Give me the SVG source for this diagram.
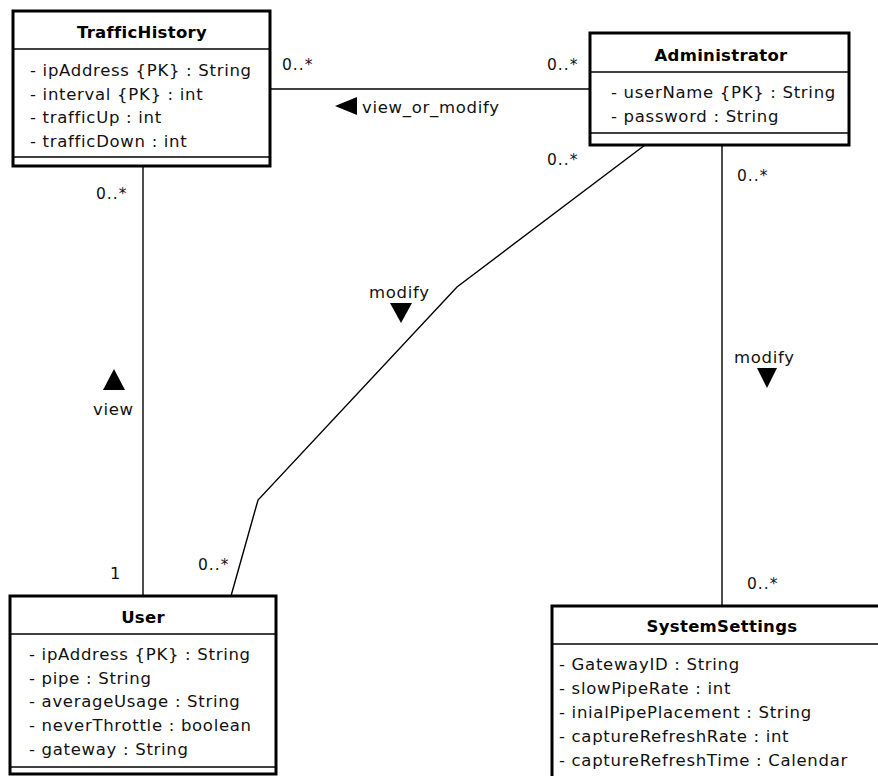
<svg xmlns="http://www.w3.org/2000/svg" width="878" height="776" viewBox="0 0 878 776">
<style>
.box{fill:#fff;stroke:#000;stroke-width:3}
.sep{stroke:#000;stroke-width:1.5}
.title{font-family:"DejaVu Sans",sans-serif;font-weight:bold;font-size:16.5px;letter-spacing:0.3px;text-anchor:middle;fill:#000}
.attr{font-family:"DejaVu Sans",sans-serif;font-size:16.5px;letter-spacing:0.7px;fill:#111}
.lbl{font-family:"DejaVu Sans",sans-serif;font-size:15.5px;letter-spacing:1px;fill:#111}
.big{font-size:16.5px;letter-spacing:0.7px}
.conn{fill:none;stroke:#000;stroke-width:1.4}
.tri{fill:#000}
</style>
<rect width="878" height="776" fill="#fff"/>
<g id="connectors">
<line class="conn" x1="270" y1="89" x2="590" y2="89"/>
<line class="conn" x1="143" y1="166" x2="143" y2="596"/>
<polyline class="conn" points="645,145 457,287 258,500 231,596"/>
<line class="conn" x1="722" y1="145" x2="722" y2="606"/>
<text class="lbl" x="282" y="70">0..*</text>
<text class="lbl" x="547" y="70">0..*</text>
<polygon class="tri" points="335,106 357,97 357,115"/>
<text class="lbl big" x="362" y="113">view_or_modify</text>
<text class="lbl" x="547" y="165">0..*</text>
<text class="lbl big" x="369" y="298">modify</text>
<polygon class="tri" points="390,303 412,303 401,323"/>
<text class="lbl" x="96" y="199">0..*</text>
<polygon class="tri" points="114,369 103,390 125,390"/>
<text class="lbl big" x="93" y="415">view</text>
<text class="lbl big" x="110" y="579">1</text>
<text class="lbl" x="198" y="570">0..*</text>
<text class="lbl" x="737" y="181">0..*</text>
<text class="lbl big" x="734" y="363">modify</text>
<polygon class="tri" points="757,368 777,368 767,388"/>
<text class="lbl" x="747" y="589">0..*</text>
</g>
<g id="TrafficHistory">
<rect class="box" x="13" y="11" width="257" height="155"/>
<line class="sep" x1="13" y1="49" x2="270" y2="49"/>
<line class="sep" x1="13" y1="157" x2="270" y2="157"/>
<text class="title" x="142" y="38">TrafficHistory</text>
<text class="attr" x="30" y="76">- ipAddress {PK} : String</text>
<text class="attr" x="30" y="99.5">- interval {PK} : int</text>
<text class="attr" x="30" y="123">- trafficUp : int</text>
<text class="attr" x="30" y="146.5">- trafficDown : int</text>
</g>
<g id="Administrator">
<rect class="box" x="590" y="33" width="259" height="112"/>
<line class="sep" x1="590" y1="72" x2="849" y2="72"/>
<line class="sep" x1="590" y1="133" x2="849" y2="133"/>
<text class="title" x="721" y="61">Administrator</text>
<text class="attr" x="611" y="98">- userName {PK} : String</text>
<text class="attr" x="611" y="122">- password : String</text>
</g>
<g id="User">
<rect class="box" x="10" y="596" width="266" height="178"/>
<line class="sep" x1="10" y1="634" x2="276" y2="634"/>
<line class="sep" x1="10" y1="767" x2="276" y2="767"/>
<text class="title" x="143" y="623">User</text>
<text class="attr" x="29" y="660">- ipAddress {PK} : String</text>
<text class="attr" x="29" y="683.5">- pipe : String</text>
<text class="attr" x="29" y="707">- averageUsage : String</text>
<text class="attr" x="29" y="731">- neverThrottle : boolean</text>
<text class="attr" x="29" y="755">- gateway : String</text>
</g>
<g id="SystemSettings">
<rect class="box" x="552" y="606" width="340" height="190"/>
<line class="sep" x1="552" y1="644" x2="892" y2="644"/>
<text class="title" x="722" y="632">SystemSettings</text>
<text class="attr" x="559" y="670">- GatewayID : String</text>
<text class="attr" x="559" y="694">- slowPipeRate : int</text>
<text class="attr" x="559" y="718">- inialPipePlacement : String</text>
<text class="attr" x="559" y="742">- captureRefreshRate : int</text>
<text class="attr" x="559" y="765.5">- captureRefreshTime : Calendar</text>
</g>
</svg>
